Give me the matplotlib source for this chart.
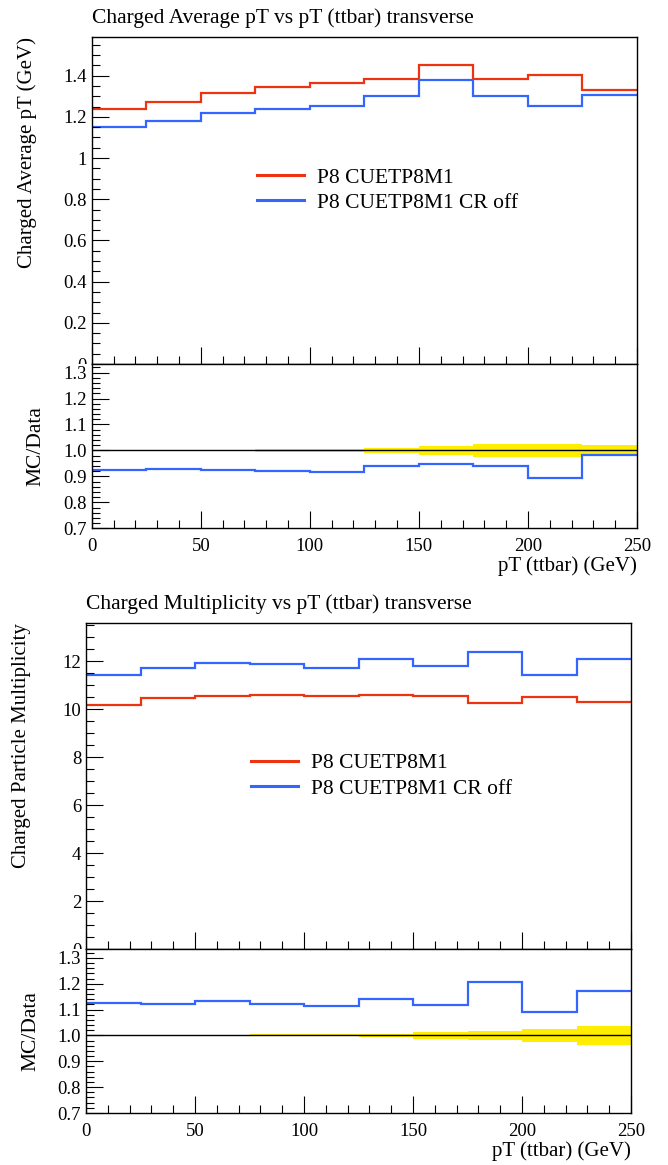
import numpy as np
import matplotlib
matplotlib.use("Agg")
import matplotlib.pyplot as plt
from matplotlib.ticker import MultipleLocator, FixedLocator
from matplotlib.transforms import Bbox, TransformedBbox

plt.rcParams["font.family"] = ["Liberation Serif", "DejaVu Serif"]

# bin edges in pT(ttbar) [GeV]
edges = [0, 25, 50, 75, 100, 125, 150, 175, 200, 225, 250]

# charged average pT vs pT(ttbar)
avgpt_cr = [1.240, 1.273, 1.317, 1.343, 1.364, 1.385, 1.452, 1.384, 1.405, 1.328]
avgpt_croff = [1.151, 1.182, 1.219, 1.237, 1.253, 1.302, 1.380, 1.302, 1.255, 1.305]
avgpt_ratio = [0.923, 0.928, 0.925, 0.921, 0.918, 0.939, 0.947, 0.940, 0.892, 0.982]
avgpt_band = [0.001, 0.001, 0.002, 0.006, 0.006, 0.009, 0.017, 0.024, 0.024, 0.022]

# charged multiplicity vs pT(ttbar)
mult_cr = [10.17, 10.47, 10.55, 10.61, 10.55, 10.60, 10.54, 10.25, 10.50, 10.30]
mult_croff = [11.41, 11.70, 11.93, 11.86, 11.70, 12.09, 11.79, 12.37, 11.41, 12.08]
mult_ratio = [1.124, 1.121, 1.133, 1.120, 1.114, 1.139, 1.119, 1.208, 1.091, 1.172]
mult_band = [0.001, 0.001, 0.003, 0.004, 0.004, 0.006, 0.013, 0.019, 0.025, 0.038]

RED = "#EE3311"
BLUE = "#3366FF"
labels = ["P8 CUETP8M1", "P8 CUETP8M1 CR off"]

W, H = 668, 1165
fig = plt.figure(figsize=(W / 100, H / 100), dpi=100)


def px_axes(x0, x1, ytop, ybot):
    return fig.add_axes([x0 / W, 1 - ybot / H, (x1 - x0) / W, (ybot - ytop) / H])


def style(ax, major, minor):
    for s in ax.spines.values():
        s.set_linewidth(1.0)
    ax.tick_params(which="both", direction="in", top=False, right=False,
                   width=0.8, labelsize=13.5, colors="black")
    ax.tick_params(which="major", length=12)
    ax.tick_params(which="minor", length=6)
    ax.xaxis.set_major_locator(MultipleLocator(50))
    ax.xaxis.set_minor_locator(MultipleLocator(10))
    ax.yaxis.set_major_locator(MultipleLocator(major))
    ax.yaxis.set_minor_locator(MultipleLocator(minor))
    ax.set_xlim(0, 250)


def panel(x0, x1, ytop, ymid, ybot, title, ylabel, ymax, major, minor,
          fmt, cr, croff, ratio, band):
    ax = px_axes(x0, x1, ytop, ymid)
    rx = px_axes(x0, x1, ymid, ybot)

    ax.stairs(cr, edges, baseline=None, color=RED, lw=1.6, label=labels[0])
    ax.stairs(croff, edges, baseline=None, color=BLUE, lw=1.6, label=labels[1])
    style(ax, major, minor)
    ax.set_ylim(0, ymax)
    ax.tick_params(labelbottom=False)
    ax.yaxis.set_major_formatter(fmt)
    ax.set_ylabel(ylabel, fontsize=15, loc="top")
    ax.yaxis.set_label_coords(-0.100, 1.0)
    ax.set_title(title, fontsize=15.5, loc="left", pad=10)
    # bottom tick label half hidden under the ratio panel, like the original
    clip = TransformedBbox(Bbox([[0, 1 - ymid / H], [1, 1]]), fig.transFigure)
    fig.canvas.draw()
    for t in ax.get_yticklabels():
        t.set_clip_on(True)
        t.set_clip_box(clip)

    leg = ax.legend(loc="upper left", bbox_to_anchor=(0.303, 0.600),
                    frameon=False, fontsize=15.5, handlelength=2.2,
                    handletextpad=0.6, labelspacing=0.25, borderpad=0,
                    borderaxespad=0)
    for ln in leg.get_lines():
        ln.set_linewidth(2.2)

    lo = [1 - e for e in band]
    hi = [1 + e for e in band]
    rx.stairs(hi, edges, baseline=lo, fill=True, color="#FFEE00", lw=0)
    rx.axhline(1.0, color="black", lw=1.0)
    rx.stairs(ratio, edges, baseline=None, color=BLUE, lw=1.6)
    style(rx, 0.1, 0.02)
    rx.set_ylim(0.7, 1.333)
    rx.yaxis.set_major_locator(FixedLocator([0.7, 0.8, 0.9, 1.0, 1.1, 1.2, 1.3]))
    rx.yaxis.set_major_formatter("{x:.1f}")
    rx.set_ylabel("MC/Data", fontsize=15.5)
    rx.yaxis.set_label_coords(-0.084, 0.5)
    rx.tick_params(axis="x", pad=7)
    rx.set_xlabel("pT (ttbar) (GeV)", fontsize=15, loc="right", labelpad=1)
    return ax, rx


def fmt_avg(v, pos):
    if abs(v - round(v)) < 1e-6:
        return "%d" % round(v)
    return "%.1f" % v


panel(91.7, 637, 36.5, 364, 528.3,
      "Charged Average pT vs pT (ttbar) transverse",
      "Charged Average pT (GeV)", 1.59, 0.2, 0.05, fmt_avg,
      avgpt_cr, avgpt_croff, avgpt_ratio, avgpt_band)

panel(86, 631, 622.7, 949.3, 1113,
      "Charged Multiplicity vs pT (ttbar) transverse",
      "Charged Particle Multiplicity", 13.6, 2, 0.5, "{x:.0f}",
      mult_cr, mult_croff, mult_ratio, mult_band)

fig.savefig("out.png", dpi=100)
